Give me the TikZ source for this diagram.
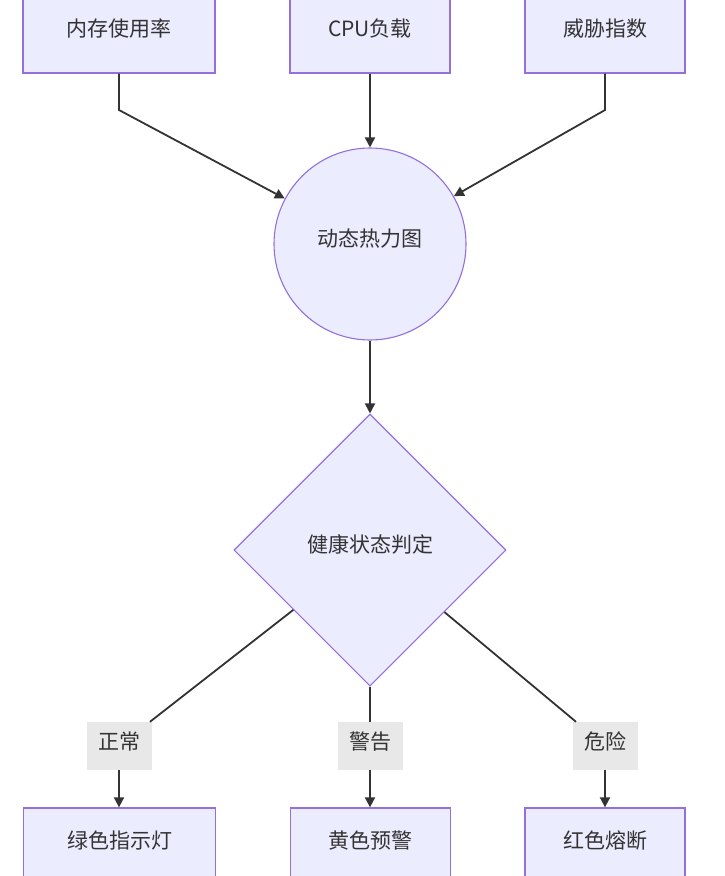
\documentclass[tikz,border=0pt]{standalone}
\usepackage{fontspec}
\setmainfont{Noto Sans CJK SC}
\usetikzlibrary{shapes.geometric,arrows.meta}
\definecolor{nodefill}{HTML}{ECECFF}
\definecolor{nodeline}{HTML}{9370DB}
\definecolor{txt}{HTML}{333333}
\definecolor{edge}{HTML}{333333}
\definecolor{lblfill}{HTML}{E8E8E8}
\tikzset{
  every node/.style={font=\fontsize{21}{24}\selectfont, text=txt},
  topbox/.style={draw=nodeline, fill=nodefill, line width=1.3pt, minimum width=192pt,
    inner ysep=0pt, text height=53pt, text depth=37pt, anchor=base},
  botbox/.style={draw=nodeline, fill=nodefill, line width=1.3pt, minimum width=192pt,
    inner ysep=0pt, text height=40pt, text depth=37pt, anchor=base},
  raised/.style={text height=18pt, text depth=14pt},
  circbox/.style={circle, draw=nodeline, fill=nodefill, line width=1.1pt, minimum size=192pt, inner sep=0pt, raised},
  diabox/.style={diamond, draw=nodeline, fill=nodefill, line width=1.1pt, minimum width=272pt, minimum height=272pt, inner sep=0pt, raised},
  lbl/.style={fill=lblfill, minimum width=65pt, minimum height=48pt, inner sep=0pt, text height=18pt, text depth=12pt},
  conn/.style={draw=edge, line width=1.8pt},
  arr/.style={conn, -{Triangle[length=10pt,width=10pt]}},
}
\begin{document}
\begin{tikzpicture}[x=1pt,y=-1pt]
\useasboundingbox (0,0) rectangle (725,876);
\clip (0,0) rectangle (725,876);
% top boxes
\node[topbox, minimum width=192pt] (mem) at (119,36) {内存使用率};
\node[topbox, minimum width=160pt] (cpu) at (370,36) {CPU负载};
\node[topbox, minimum width=160pt] (thr) at (605,36) {威胁指数};
% centre
\node[circbox] (heat) at (370,244) {动态热力图};
\node[diabox] (dec) at (370,550) {健康状态判定};
% labels
\node[lbl] (l1) at (119,746) {正常};
\node[lbl] (l2) at (370,746) {警告};
\node[lbl] (l3) at (605,746) {危险};
% bottom boxes
\node[botbox, minimum width=192pt] (g) at (119.5,848) {绿色指示灯};
\node[botbox, minimum width=160pt] (y) at (370.5,848) {黄色预警};
\node[botbox, minimum width=160pt] (r) at (605,848) {红色熔断};
% edges
\coordinate (c1) at (119,110);
\coordinate (c3) at (605,110);
\draw[arr] (mem.south) -- (c1) -- (heat);
\draw[arr] (cpu.south) -- (heat.north);
\draw[arr] (thr.south) -- (c3) -- (heat);
\draw[arr] (heat.south) -- (dec.north);
\draw[conn] (dec) -- (l1);
\draw[conn] (dec.south) -- (l2.north);
\draw[conn] (dec) -- (l3);
\draw[arr] (l1.south) -- (l1.south |- g.north);
\draw[arr] (l2.south) -- (l2.south |- y.north);
\draw[arr] (l3.south) -- (l3.south |- r.north);
\end{tikzpicture}
\end{document}
